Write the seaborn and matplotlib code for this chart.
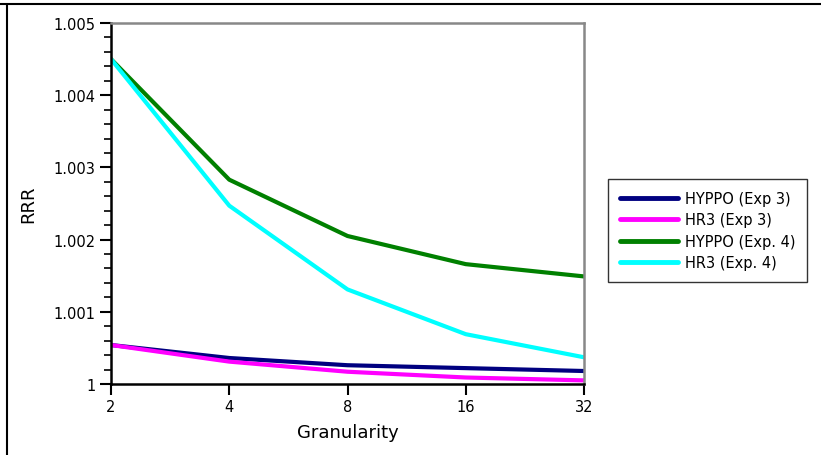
import matplotlib
matplotlib.use("Agg")
import matplotlib.pyplot as plt
from matplotlib.lines import Line2D
from matplotlib.ticker import FixedLocator, MultipleLocator, FuncFormatter
import seaborn as sns
import pandas as pd

granularity = [2, 4, 8, 16, 32]
hyppo_exp3 = [1.00054, 1.00036, 1.00026, 1.00022, 1.00018]
hr3_exp3 = [1.00054, 1.00031, 1.00017, 1.00009, 1.00005]
hyppo_exp4 = [1.00450, 1.00283, 1.00205, 1.00166, 1.00149]
hr3_exp4 = [1.00450, 1.00247, 1.00131, 1.00069, 1.00037]
series_names = ["HYPPO (Exp 3)", "HR3 (Exp 3)", "HYPPO (Exp. 4)", "HR3 (Exp. 4)"]
series_colors = ["#000080", "#FF00FF", "#008000", "#00FFFF"]
y_ticks = [1.0, 1.001, 1.002, 1.003, 1.004, 1.005]

rows = []
for name, vals in zip(series_names, [hyppo_exp3, hr3_exp3, hyppo_exp4, hr3_exp4]):
    for g, v in zip(granularity, vals):
        rows.append({"Granularity": g, "RRR": v, "series": name})
df = pd.DataFrame(rows)

sns.set_style("ticks")
plt.rcParams['font.family'] = ['DejaVu Sans']
plt.rcParams['text.color'] = 'black'
plt.rcParams['axes.labelcolor'] = 'black'

fig = plt.figure(figsize=(8.21, 4.56), dpi=100)
ax = fig.add_axes([111/821, 1-385/456, (584-111)/821, (385-24)/456])

sns.lineplot(data=df, x="Granularity", y="RRR", hue="series", hue_order=series_names,
             palette=series_colors, linewidth=3, ax=ax, legend=False)

ax.set_xscale("log", base=2)
ax.set_xlim(2, 32)
ax.xaxis.set_major_locator(FixedLocator(granularity))
ax.xaxis.set_major_formatter(FuncFormatter(lambda v, p: f"{int(round(v))}"))
ax.xaxis.set_minor_locator(FixedLocator([]))
ax.set_ylim(1.0, 1.005)
ax.yaxis.set_major_locator(FixedLocator(y_ticks))
ax.yaxis.set_minor_locator(MultipleLocator(0.0002))
ax.yaxis.set_major_formatter(FuncFormatter(lambda v, p: "1" if abs(v-1) < 1e-9 else f"{v:.3f}"))

ax.tick_params(axis="both", which="major", length=8, width=1.5, direction="out", labelsize=10.5,
               colors="black", labelcolor="black", pad=3)
ax.tick_params(axis="y", which="minor", length=5, width=1.2, direction="out", colors="black")
for s in ["left", "bottom"]:
    ax.spines[s].set_color("black")
    ax.spines[s].set_linewidth(1.8)
for s in ["top", "right"]:
    ax.spines[s].set_visible(True)
    ax.spines[s].set_color("#888888")
    ax.spines[s].set_linewidth(1.8)

ax.set_xlabel("Granularity", fontsize=13, labelpad=6, color="black")
ax.set_ylabel("RRR", fontsize=13, labelpad=12, color="black")

handles = [Line2D([0], [0], color=c, linewidth=3.5) for c in series_colors]
leg = fig.legend(handles, series_names, loc="upper left",
                 bbox_to_anchor=(608/821, 1-180/456), fontsize=10.5,
                 frameon=True, fancybox=False, edgecolor="black",
                 handlelength=4.0, handletextpad=0.5, borderpad=0.8,
                 labelspacing=0.45, borderaxespad=0)
leg.get_frame().set_linewidth(1.0)
for t in leg.get_texts():
    t.set_color("black")

# outer frame lines (top and left)
fig.add_artist(Line2D([0, 1], [1-5/456, 1-5/456], color="black", linewidth=1.5, transform=fig.transFigure))
fig.add_artist(Line2D([7/821, 7/821], [0, 1-5/456], color="black", linewidth=1.5, transform=fig.transFigure))

fig.savefig("out.png", dpi=100)
